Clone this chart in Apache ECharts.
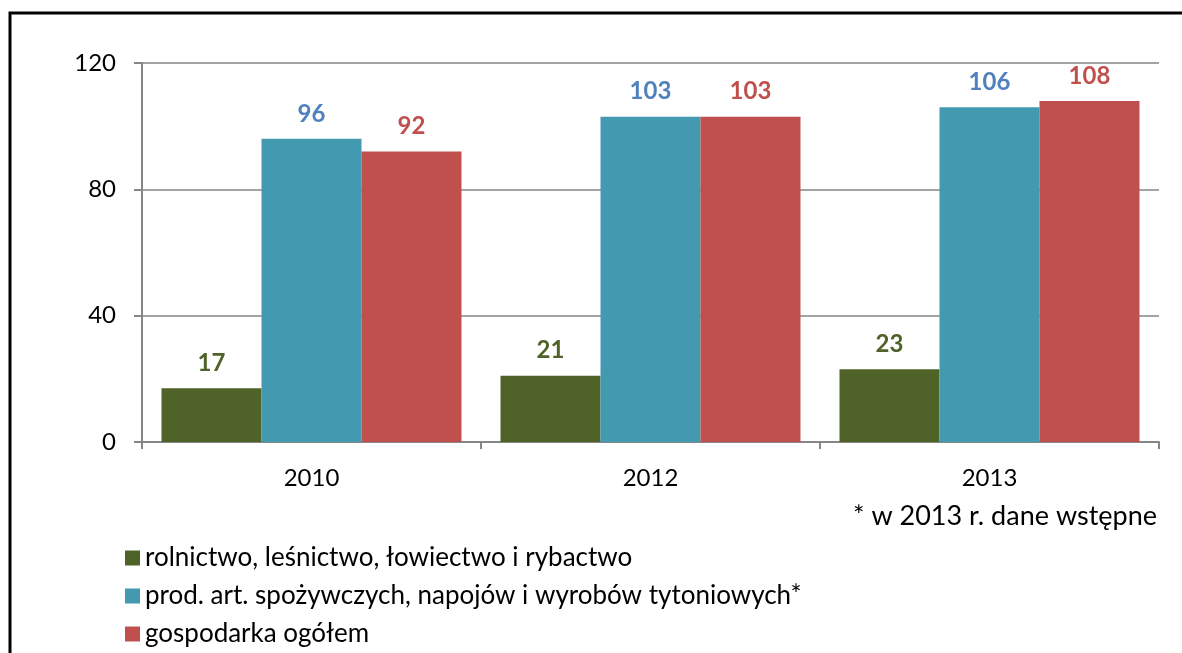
<!DOCTYPE html>
<html>
<head>
<meta charset="utf-8">
<script src="https://cdn.jsdelivr.net/npm/echarts@6/dist/echarts.min.js"></script>
<style>
  html, body { margin: 0; padding: 0; background: #fff; }
  #chart { width: 1182px; height: 653px; }
</style>
</head>
<body>
<div id="chart"></div>
<script>
const years = ['2010', '2012', '2013']
const seriesNames = [
  'rolnictwo, leśnictwo, łowiectwo i rybactwo',
  'prod. art. spożywczych, napojów i wyrobów tytoniowych*',
  'gospodarka ogółem'
]
const rolnictwo = [17, 21, 23]
const przetworstwo = [96, 103, 106]
const ogolem = [92, 103, 108]

const barColors = ['#4F6228', '#4399B0', '#C0504D']
const labelColors = ['#4F6228', '#4F81BD', '#C0504D']
const font = 'Lato'

const myChart = echarts.init(document.getElementById('chart'))

function makeSeries(name, data, i) {
  return {
    name: name,
    type: 'bar',
    data: data,
    barGap: 0,
    barCategoryGap: '11.5%',
    itemStyle: { color: barColors[i] },
    label: {
      show: true,
      position: 'top',
      distance: 13,
      color: labelColors[i],
      fontFamily: font,
      fontWeight: 'bold',
      fontSize: 24
    }
  }
}

myChart.setOption({
  animation: false,
  textStyle: { fontFamily: font },
  graphic: [
    {
      // frame: only left and top edges fall inside the picture
      type: 'polyline',
      shape: { points: [[10, 700], [10, 13], [1300, 13]] },
      style: { fill: null, stroke: '#000', lineWidth: 3 }
    },
    {
      type: 'text',
      right: 25,
      top: 503,
      style: { text: '* w 2013 r. dane wstępne', fill: '#000', font: '27px ' + font }
    }
  ],
  grid: { left: 142, right: 23, top: 63, bottom: 211 },
  legend: {
    orient: 'vertical',
    left: 120,
    top: 540,
    itemWidth: 15,
    itemHeight: 15,
    itemGap: 12,
    icon: 'rect',
    textStyle: { fontSize: 26, color: '#000', fontFamily: font },
    data: seriesNames
  },
  xAxis: {
    type: 'category',
    data: years,
    axisLine: { lineStyle: { color: '#868686', width: 2 } },
    axisTick: { show: true, length: 7, lineStyle: { color: '#868686', width: 2 } },
    axisLabel: { color: '#000', fontSize: 24, margin: 24, fontFamily: font }
  },
  yAxis: {
    type: 'value',
    min: 0,
    max: 120,
    interval: 40,
    axisLine: { show: true, lineStyle: { color: '#868686', width: 2 } },
    axisTick: { show: true, length: 8, lineStyle: { color: '#868686', width: 2 } },
    axisLabel: { color: '#000', fontSize: 24, margin: 26, fontFamily: font },
    splitLine: { lineStyle: { color: '#868686', width: 1.5 } }
  },
  series: [
    makeSeries(seriesNames[0], rolnictwo, 0),
    makeSeries(seriesNames[1], przetworstwo, 1),
    makeSeries(seriesNames[2], ogolem, 2)
  ]
})
</script>
</body>
</html>
